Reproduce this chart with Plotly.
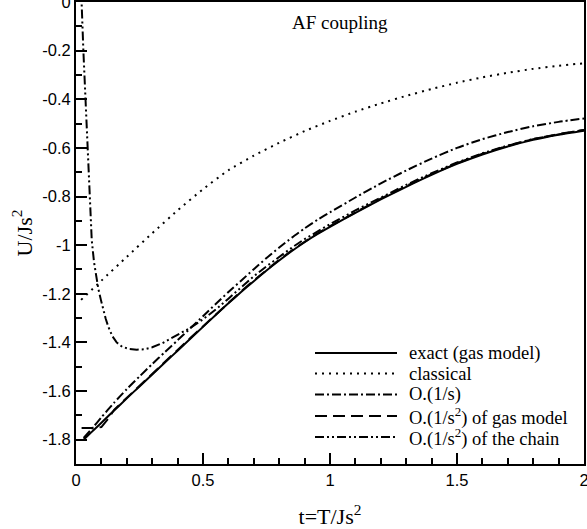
import plotly.graph_objects as go

# ---- data ----
t_exact = [0.03, 0.06, 0.10, 0.15, 0.20, 0.25, 0.30, 0.35, 0.40, 0.45, 0.50, 0.55, 0.60, 0.65,
           0.70, 0.75, 0.80, 0.85, 0.90, 0.95, 1.00, 1.10, 1.20, 1.30, 1.40, 1.50, 1.60, 1.70,
           1.80, 1.90, 2.00]
u_exact = [-1.800, -1.770, -1.730, -1.680, -1.630, -1.581, -1.532, -1.483, -1.434, -1.385,
           -1.336, -1.287, -1.239, -1.193, -1.148, -1.104, -1.063, -1.024, -0.988, -0.955,
           -0.925, -0.867, -0.812, -0.760, -0.711, -0.666, -0.627, -0.594, -0.567, -0.546, -0.529]

t_class = [0.02, 0.10, 0.20, 0.30, 0.40, 0.50, 0.60, 0.70, 0.80, 0.90, 1.00, 1.10, 1.20, 1.30,
           1.40, 1.50, 1.60, 1.70, 1.80, 1.90, 2.00]
u_class = [-1.225, -1.146, -1.048, -0.951, -0.857, -0.770, -0.692, -0.632, -0.579, -0.531,
           -0.489, -0.451, -0.417, -0.386, -0.358, -0.332, -0.310, -0.291, -0.275, -0.262, -0.252]

t_o1 = [0.03, 0.06, 0.10, 0.15, 0.20, 0.25, 0.30, 0.35, 0.40, 0.45, 0.50, 0.55, 0.60, 0.65, 0.70,
        0.75, 0.80, 0.85, 0.90, 0.95, 1.00, 1.10, 1.20, 1.30, 1.40, 1.50, 1.60, 1.70, 1.80, 1.90, 2.00]
u_o1 = [-1.793, -1.758, -1.708, -1.648, -1.592, -1.540, -1.489, -1.440, -1.391, -1.342, -1.292,
        -1.242, -1.193, -1.146, -1.099, -1.053, -1.010, -0.969, -0.931, -0.896, -0.865, -0.804,
        -0.746, -0.693, -0.644, -0.600, -0.564, -0.535, -0.511, -0.493, -0.479]

t_gas = [0.022, 0.06, 0.10, 0.13, 0.15, 0.20, 0.25, 0.30, 0.35, 0.40, 0.45, 0.50, 0.55, 0.60,
         0.65, 0.70, 0.75, 0.80, 0.85, 0.90, 0.95, 1.00, 1.10, 1.20, 1.30, 1.40, 1.50, 1.60,
         1.70, 1.80, 1.90, 2.00]
u_gas = [-1.752, -1.752, -1.748, -1.710, -1.677, -1.627, -1.578, -1.529, -1.480, -1.431, -1.382,
         -1.333, -1.284, -1.236, -1.190, -1.145, -1.101, -1.060, -1.021, -0.985, -0.952, -0.922,
         -0.864, -0.809, -0.757, -0.708, -0.663, -0.624, -0.591, -0.564, -0.543, -0.526]

t_chain = [0.019, 0.022, 0.029, 0.037, 0.045, 0.053, 0.062, 0.071, 0.080, 0.088, 0.098, 0.107,
           0.117, 0.127, 0.143, 0.160, 0.182, 0.210, 0.239, 0.270, 0.300, 0.340, 0.383, 0.450,
           0.500, 0.550, 0.600, 0.650, 0.700, 0.750, 0.800, 0.850, 0.900, 0.950, 1.000, 1.100,
           1.200, 1.300, 1.400, 1.500, 1.600, 1.700, 1.800, 1.900, 2.000]
u_chain = [0.15, 0.0, -0.20, -0.40, -0.60, -0.80, -0.98, -1.07, -1.13, -1.18, -1.225, -1.266,
           -1.303, -1.335, -1.374, -1.400, -1.418, -1.427, -1.430, -1.428, -1.420, -1.403, -1.378,
           -1.340, -1.305, -1.265, -1.220, -1.173, -1.128, -1.087, -1.048, -1.010, -0.975, -0.943,
           -0.914, -0.857, -0.803, -0.752, -0.704, -0.660, -0.622, -0.590, -0.563, -0.543, -0.526]

series_names = ["exact (gas model)", "classical", "O.(1/s)",
                "O.(1/s<sup>2</sup>) of gas model", "O.(1/s<sup>2</sup>) of the chain"]

x_tickvals = [0, 0.5, 1, 1.5, 2]
x_ticktext = ["0", "0.5", "1", "1.5", "2"]
y_tickvals = [0, -0.2, -0.4, -0.6, -0.8, -1.0, -1.2, -1.4, -1.6, -1.8]
y_ticktext = ["0", "-0.2", "-0.4", "-0.6", "-0.8", "-1", "-1.2", "-1.4", "-1.6", "-1.8"]

# ---- styles ----
dashes = ["solid", "2px,5px", "9px,3px,2px,3px", "12px,6px", "9px,3px,2px,3px,2px,3px"]
shapes_ = ["spline", "spline", "spline", "linear", "linear"]
data = [(t_exact, u_exact), (t_class, u_class), (t_o1, u_o1), (t_gas, u_gas), (t_chain, u_chain)]
serif = "Liberation Serif, Times New Roman, serif"
sans = "Liberation Sans, Arial, sans-serif"

fig = go.Figure()
for (tx, uy), name, d, sh in zip(data, series_names, dashes, shapes_):
    fig.add_trace(go.Scatter(x=tx, y=uy, mode="lines", name=name, showlegend=False,
                             hoverinfo="skip",
                             line=dict(color="black", width=2, dash=d, shape=sh, smoothing=0.6)))

# custom legend (long line samples like the original)
L, R, T, B = 76, 584, 2, 464
def px(x): return (x - L) / (R - L)
def py(y): return (B - y) / (B - T)
rows = [353, 373.5, 394.5, 416, 437]
for name, d, ry in zip(series_names, dashes, rows):
    fig.add_shape(type="line", xref="paper", yref="paper", x0=px(315), x1=px(397),
                  y0=py(ry), y1=py(ry), line=dict(color="black", width=2, dash=d))
    fig.add_annotation(xref="paper", yref="paper", x=px(407), y=py(ry), text=name,
                       showarrow=False, xanchor="left", yanchor="middle",
                       font=dict(family=serif, size=18.5, color="black"))

fig.add_annotation(xref="paper", yref="paper", x=px(340), y=py(23), text="AF coupling",
                   showarrow=False, xanchor="center", yanchor="middle",
                   font=dict(family=serif, size=19, color="black"))

axis_common = dict(showgrid=False, zeroline=False, showline=True, linecolor="black",
                   linewidth=2, mirror=True, ticks="inside", tickcolor="black",
                   tickwidth=2, ticklen=11, automargin=False, ticklabeloverflow="allow",
                   tickfont=dict(family=sans, size=16.5, color="black"))

fig.update_layout(
    width=587, height=529,
    margin=dict(l=76, r=3, t=2, b=65),
    paper_bgcolor="white", plot_bgcolor="white",
    xaxis=dict(range=[0, 2], tickmode="array", tickvals=x_tickvals, ticktext=x_ticktext,
               minor=dict(tickmode="linear", tick0=0, dtick=0.1, ticks="inside",
                          ticklen=6, tickwidth=1.5, tickcolor="black"),
               title=dict(text="t=T/Js<sup>2</sup>", standoff=21,
                          font=dict(family=serif, size=22, color="black")),
               **axis_common),
    yaxis=dict(range=[-1.9, 0], tickmode="array", tickvals=y_tickvals, ticktext=y_ticktext,
               minor=dict(tickmode="linear", tick0=0, dtick=0.1, ticks="inside",
                          ticklen=6, tickwidth=1.5, tickcolor="black"),
               title=dict(text="U/Js<sup>2</sup>", standoff=4,
                          font=dict(family=serif, size=22, color="black")),
               **axis_common),
)

fig.write_html("out.html", config={"displayModeBar": False},
               post_script="document.body.style.margin='0';document.body.style.overflow='hidden';")
